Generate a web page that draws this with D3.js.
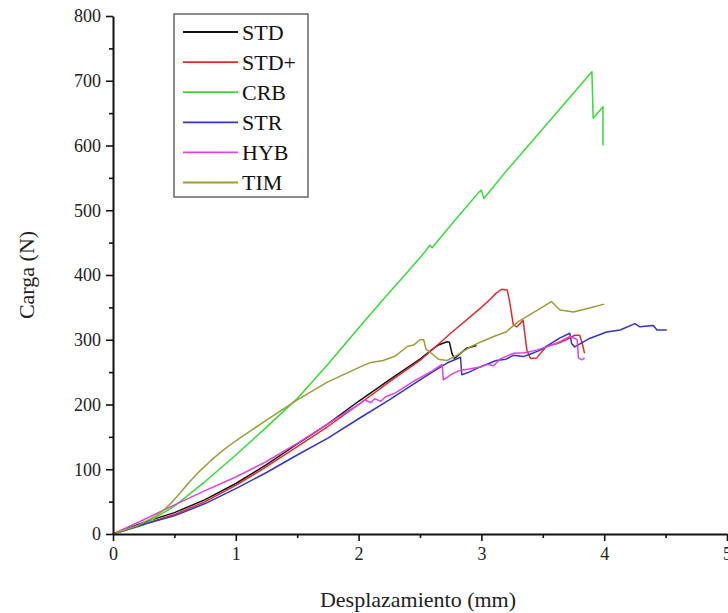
<!DOCTYPE html>
<html><head><meta charset="utf-8">
<script src="https://cdn.jsdelivr.net/npm/d3@7"></script>
<style>body{margin:0;background:#fff}svg{display:block}</style>
</head><body><svg id="c" width="728" height="613"></svg>
<script>
const seriesNames = ["STD","STD+","CRB","STR","HYB","TIM"];
const seriesColors = ["#111111","#e8282a","#35dc35","#3434c8","#de44de","#9c9c3a"];
const xTicks = [0,1,2,3,4,5];
const yTicks = [0,100,200,300,400,500,600,700,800];

const STD = [[0,0],[0.25,18],[0.5,33],[0.75,53],[1.0,78],[1.25,107],[1.5,139],[1.75,170],[2.0,205],[2.25,238],[2.5,270],[2.6,285],[2.65,292],[2.72,297],[2.74,296],[2.76,279],[2.78,271],[2.83,279],[2.88,287],[2.96,291]];
const STDp = [[0,0],[0.25,15],[0.5,30],[0.75,50],[1.0,75],[1.25,104],[1.5,135],[1.75,166],[2.0,200],[2.25,235],[2.5,268],[2.75,310],[3.0,350],[3.08,364],[3.12,372],[3.165,378],[3.21,377],[3.23,359],[3.26,323],[3.29,320],[3.34,330],[3.37,284],[3.40,271],[3.45,272],[3.53,290],[3.62,294],[3.69,300],[3.76,307],[3.80,307],[3.82,295],[3.84,279]];
const CRB = [[0,0],[0.25,14],[0.5,43],[0.75,81],[1.0,122],[1.25,165],[1.5,209],[1.75,262],[2.0,318],[2.2,362],[2.4,405],[2.55,438],[2.58,446],[2.6,442],[2.62,447],[2.8,488],[2.98,528],[3.0,531],[3.02,518],[3.2,560],[3.5,626],[3.7,670],[3.9,714],[3.91,642],[3.99,660],[3.99,600]];
const STR = [[0,0],[0.25,15],[0.5,28],[0.75,47],[1.0,70],[1.25,95],[1.5,122],[1.75,148],[2.0,178],[2.25,207],[2.45,232],[2.6,250],[2.72,264],[2.83,273],[2.84,246],[2.9,250],[2.99,258],[3.12,268],[3.2,270],[3.26,276],[3.34,274],[3.4,278],[3.48,284],[3.64,303],[3.72,310],[3.735,294],[3.76,289],[3.88,302],[4.02,312],[4.13,315],[4.25,325],[4.29,320],[4.40,322],[4.43,315],[4.51,315]];
const HYB = [[0,0],[0.25,22],[0.5,45],[0.75,67],[1.0,88],[1.25,112],[1.5,140],[1.75,170],[2.0,200],[2.05,207],[2.1,203],[2.13,209],[2.18,205],[2.22,212],[2.3,218],[2.45,236],[2.6,252],[2.68,262],[2.69,238],[2.77,248],[2.83,253],[2.9,255],[2.99,258],[3.05,262],[3.1,260],[3.15,270],[3.26,279],[3.35,280],[3.45,284],[3.53,289],[3.64,297],[3.72,305],[3.76,302],[3.78,300],[3.79,272],[3.82,269],[3.84,272]];
const TIM = [[0,0],[0.2,13],[0.35,28],[0.42,38],[0.48,49],[0.55,64],[0.62,80],[0.7,96],[0.8,114],[0.9,130],[1.0,144],[1.25,176],[1.5,207],[1.75,235],[2.0,257],[2.1,265],[2.2,268],[2.3,275],[2.4,290],[2.45,292],[2.5,300],[2.53,300],[2.55,285],[2.6,278],[2.65,270],[2.72,268],[2.8,276],[2.9,288],[3.0,297],[3.1,305],[3.2,312],[3.3,328],[3.45,345],[3.57,359],[3.64,346],[3.75,343],[3.88,349],[4.0,355]];
const seriesData = [STD,STDp,CRB,STR,HYB,TIM];

const svg = d3.select("#c");
const x = d3.scaleLinear().domain([0,5]).range([113,727]);
const y = d3.scaleLinear().domain([0,800]).range([534,16]);
const font = "'Liberation Serif','Times New Roman',serif";

const line = d3.line().x(d=>x(d[0])).y(d=>y(d[1]));
seriesData.forEach((s,i)=>{
  svg.append("path").attr("d",line(s)).attr("fill","none")
    .attr("stroke",seriesColors[i]).attr("stroke-width",1.5).attr("stroke-linejoin","round");
});

svg.append("g").attr("transform","translate(0,534)")
  .call(d3.axisBottom(x).tickValues(xTicks).tickFormat(d3.format("d")).tickSizeInner(7).tickSizeOuter(0).tickPadding(6));
svg.append("g").attr("transform","translate(0,534)")
  .call(d3.axisBottom(x).tickValues([0.5,1.5,2.5,3.5,4.5]).tickFormat("").tickSizeInner(4).tickSizeOuter(0))
  .select(".domain").remove();
svg.append("g").attr("transform","translate(113,0)")
  .call(d3.axisLeft(y).tickValues(yTicks).tickFormat(d3.format("d")).tickSizeInner(7).tickSizeOuter(0).tickPadding(5));
svg.append("g").attr("transform","translate(113,0)")
  .call(d3.axisLeft(y).tickValues([50,150,250,350,450,550,650,750]).tickFormat("").tickSizeInner(4).tickSizeOuter(0))
  .select(".domain").remove();
svg.selectAll(".domain").attr("stroke","#111").attr("stroke-width",2);
svg.selectAll(".tick line").attr("stroke","#111").attr("stroke-width",1.6);
svg.selectAll(".tick text").attr("font-family",font).attr("font-size",18).attr("fill","#222");

svg.append("text").attr("x",418).attr("y",607).attr("text-anchor","middle")
  .attr("font-family",font).attr("font-size",22).attr("fill","#222").text("Desplazamiento (mm)");
svg.append("text").attr("transform","translate(34,275) rotate(-90)").attr("text-anchor","middle")
  .attr("font-family",font).attr("font-size",22).attr("fill","#222").text("Carga (N)");

svg.append("rect").attr("x",174).attr("y",14).attr("width",134).attr("height",183)
  .attr("fill","#fff").attr("stroke","#666").attr("stroke-width",1.5);
seriesNames.forEach((n,i)=>{
  const cy = 32 + i*30.1;
  svg.append("line").attr("x1",183).attr("x2",238).attr("y1",cy).attr("y2",cy)
    .attr("stroke",seriesColors[i]).attr("stroke-width",1.8);
  svg.append("text").attr("x",242).attr("y",cy+7.5).attr("font-family",font).attr("font-size",22)
    .attr("fill","#111").text(n);
});
</script></body></html>
